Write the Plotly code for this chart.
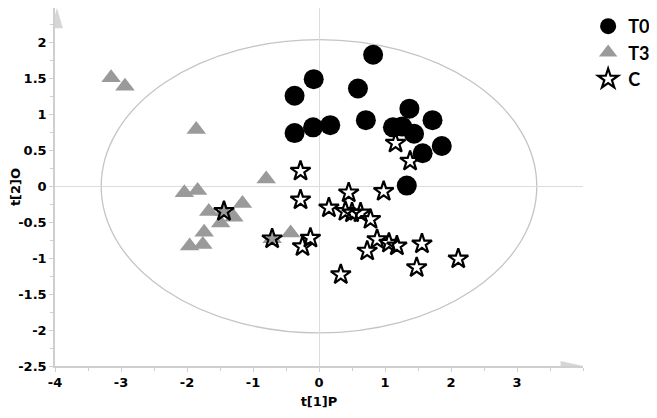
import plotly.graph_objects as go

# score coordinates
t0_x = [0.82, -0.08, -0.37, 0.59, -0.37, -0.09, 0.17, 0.71, 1.37, 1.12, 1.26, 1.44, 1.72, 1.86, 1.57, 1.33]
t0_y = [1.83, 1.49, 1.26, 1.36, 0.74, 0.82, 0.85, 0.92, 1.08, 0.82, 0.83, 0.73, 0.92, 0.56, 0.46, 0.01]

t3_x = [-3.15, -2.94, -1.86, -0.80, -2.04, -1.84, -1.67, -1.16, -1.29, -1.49, -1.74, -1.96, -1.76,
        -0.43, -1.44, -0.71]
t3_y = [1.51, 1.39, 0.79, 0.10, -0.09, -0.06, -0.35, -0.24, -0.43, -0.51, -0.64, -0.83, -0.81,
        -0.65, -0.35, -0.73]

c_x = [-0.28, 1.38, 1.16, -0.28, 0.45, 0.98, 0.15, 0.40, 0.50, 0.63, 0.78, -0.71, -0.13, -0.25,
       0.88, 0.73, 1.06, 1.18, 1.56, 1.48, 2.11, 0.33, -1.44]
c_y = [0.21, 0.35, 0.60, -0.19, -0.09, -0.07, -0.30, -0.35, -0.37, -0.37, -0.46, -0.73, -0.72, -0.84,
       -0.74, -0.90, -0.79, -0.83, -0.80, -1.13, -1.01, -1.23, -0.35]

x_ticks = [-4, -3, -2, -1, 0, 1, 2, 3]
y_ticks = [-2.5, -2, -1.5, -1, -0.5, 0, 0.5, 1, 1.5, 2]

# Hotelling T2 ellipse half-axes
ell_a, ell_b = 3.3, 2.04

font = "Lato"
axis_grey = "#cfcfcf"

fig = go.Figure()
fig.add_trace(go.Scatter(x=t0_x, y=t0_y, mode="markers", name="T0",
                         marker=dict(symbol="circle", size=20, color="black")))
fig.add_trace(go.Scatter(x=t3_x, y=t3_y, mode="markers", name="T3",
                         marker=dict(symbol="triangle-up", size=17, color="#9a9a9a")))
fig.add_trace(go.Scatter(x=c_x, y=c_y, mode="markers", name="C",
                         marker=dict(symbol="star-open", size=15, color="black",
                                     line=dict(width=2.2))))

# ellipse
fig.add_shape(type="circle", xref="x", yref="y", x0=-ell_a, x1=ell_a, y0=-ell_b, y1=ell_b,
              line=dict(color="#c4c4c4", width=1.3), layer="below")
# arrow heads on the axes
fig.add_shape(type="path", xref="x", yref="y", path="M 3.66 -2.57 L 4.0 -2.5 L 3.66 -2.43 Z",
              fillcolor="#d6d6d6", line=dict(width=0))
fig.add_shape(type="path", xref="x", yref="y", path="M -4.06 2.2 L -3.97 2.48 L -3.88 2.2 Z",
              fillcolor="#d6d6d6", line=dict(width=0))

tick_font = dict(family="DejaVu Sans", size=13, color="black", weight="bold")

fig.update_xaxes(range=[-4, 4], automargin=False, showgrid=False,
                 zeroline=True, zerolinecolor="#dcdcdc", zerolinewidth=1.3,
                 showline=True, linecolor=axis_grey, linewidth=1.5,
                 tickvals=x_ticks, ticktext=["%g" % v for v in x_ticks],
                 ticks="outside", ticklen=4, tickcolor=axis_grey, tickfont=tick_font,
                 minor=dict(dtick=0.5, ticks="outside", ticklen=3, tickcolor=axis_grey),
                 title=dict(text="t[1]P", font=tick_font, standoff=8))
fig.update_yaxes(range=[-2.5, 2.48], automargin=False, showgrid=False,
                 zeroline=True, zerolinecolor="#dcdcdc", zerolinewidth=1.3,
                 showline=True, linecolor=axis_grey, linewidth=1.5,
                 tickvals=y_ticks, ticktext=["%g" % v for v in y_ticks],
                 ticks="outside", ticklen=4, tickcolor=axis_grey, tickfont=tick_font,
                 minor=dict(dtick=0.25, ticks="outside", ticklen=3, tickcolor=axis_grey),
                 title=dict(text="t[2]O", font=tick_font, standoff=8))

# page body adds an 8px offset, so margins are shifted by that amount
fig.update_layout(
    width=657, height=418,
    margin=dict(l=47, r=82, t=0, b=60),
    plot_bgcolor="white", paper_bgcolor="white",
    font=dict(family=font),
    legend=dict(xref="container", yref="container", x=0.883, y=1.05,
                xanchor="left", yanchor="top",
                font=dict(family=font, size=18, color="black", weight="bold"),
                itemwidth=30, tracegroupgap=0),
)

fig.write_html("out.html")
